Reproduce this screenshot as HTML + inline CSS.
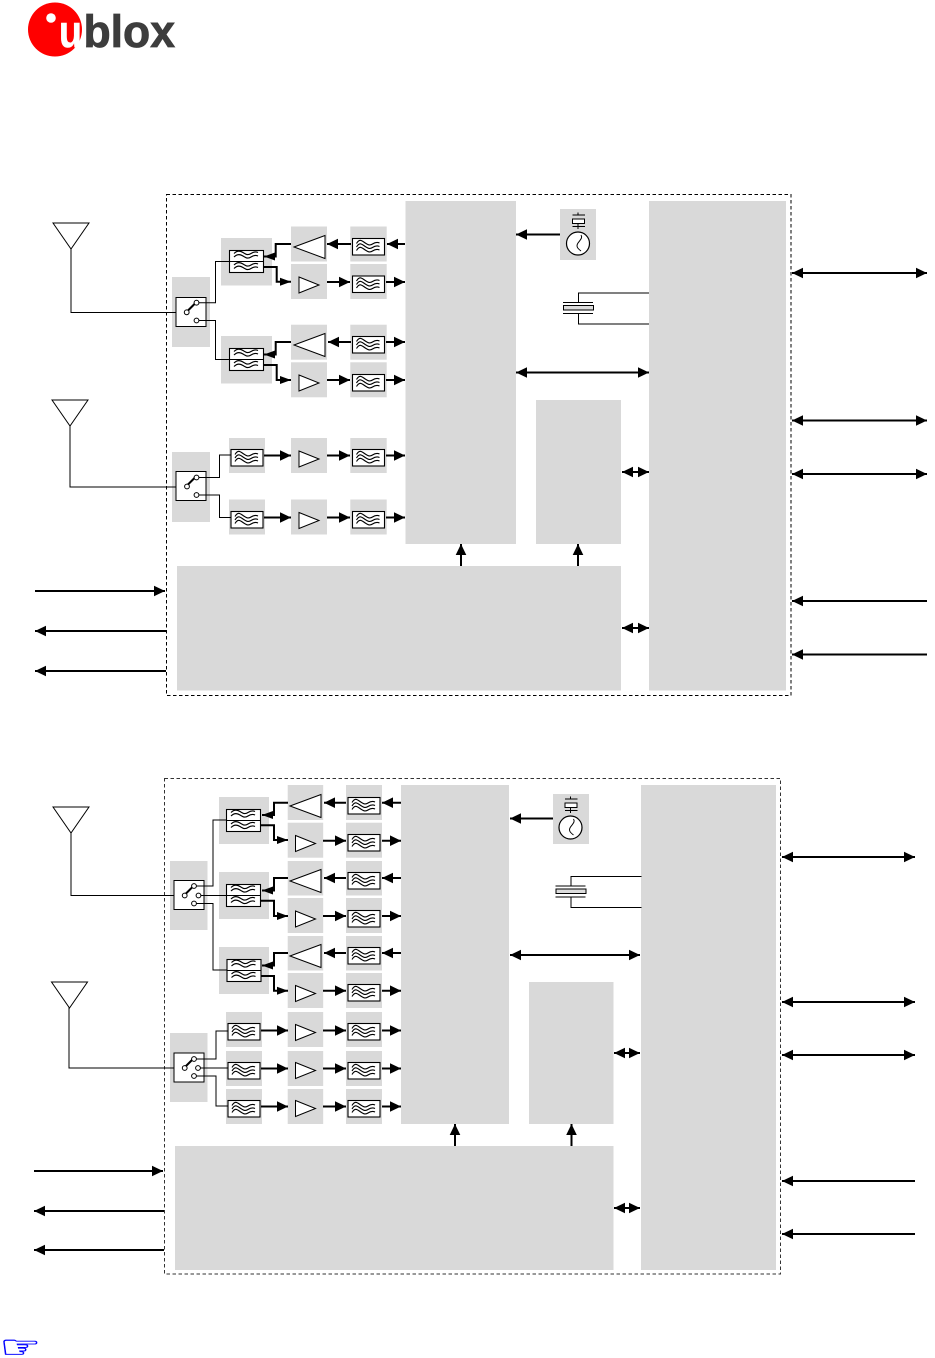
<!DOCTYPE html>
<html><head><meta charset="utf-8"><title>Block diagram</title>
<style>html,body{margin:0;padding:0;background:#fff}svg{display:block}</style></head>
<body>
<svg width="935" height="1358" viewBox="0 0 935 1358" xmlns="http://www.w3.org/2000/svg">
<defs>
<marker id="a" markerUnits="userSpaceOnUse" markerWidth="11" markerHeight="11" refX="11" refY="5.5" orient="auto-start-reverse"><path d="M0 0.2L11 5.5L0 10.8Z"/></marker>
<marker id="s" markerUnits="userSpaceOnUse" markerWidth="11" markerHeight="9" refX="11" refY="4.5" orient="auto-start-reverse"><path d="M0 0.5L11 4.5L0 8.5Z"/></marker>
<g id="w3" fill="none" stroke="#000" stroke-width="1.15"><path d="M4.5 5.5c3-5 5-3 8-1s5 3.5 8 1.5 5-2 7-1"/><path d="M4.5 9c3-5 5-3 8-1s5 3.5 8 1.5 5-2 7-1"/><path d="M4.5 12.5c3-5 5-3 8-1s5 3.5 8 1.5 5-2 7-1"/></g>
<g id="f"><rect x=".5" y=".5" width="32" height="16.5" fill="#fff" stroke="#000" stroke-width="1.1"/><use href="#w3"/></g>
<g id="w2" fill="none" stroke="#000" stroke-width="1.15"><path d="M5 3.5c3-3 6-3 9-1s5 3 8 1 5-2 7-1"/><path d="M5 7c3-3 6-3 9-1s5 3 8 1 5-2 7-1"/></g>
<g id="d"><rect x=".5" y=".5" width="34" height="22" fill="#fff" stroke="#000" stroke-width="1.1"/><path d="M0 11.5H35" stroke="#000" stroke-width="1"/><use href="#w2"/><use href="#w2" y="11.5"/></g>
<path id="big" d="M0 11.5L31 0V23Z" fill="#fff" stroke="#000"/>
<path id="sm" d="M0 0L20 8L0 16Z" fill="#fff" stroke="#000"/>
<g id="sw"><rect x=".5" y=".5" width="30" height="29" fill="#fff" stroke="#000"/><path d="M11 15L20 6" stroke="#000" stroke-width="2"/></g>
<circle id="c" r="2.4" fill="#fff" stroke="#000" stroke-width="1"/>
<path id="ant" d="M0 0H36L18 26Z" fill="#fff" stroke="#000"/>
<g id="osc"><path d="M18 3.5V6M12.5 6H25M18 14V20M12.5 17.5H25" stroke="#000" fill="none"/><rect x="12.5" y="10" width="12" height="4.5" fill="#fff" stroke="#000"/><circle cx="18" cy="34.5" r="11.5" fill="#fff" stroke="#000" stroke-width="1.2"/><path d="M21 26c2 3-1 5-3 8s-1 5 3 8" fill="none" stroke="#000"/></g>
<g id="xt"><path d="M15.5 9V0H86M15.5 21V31H86M0 9.5H30M0 20.5H30" stroke="#000" fill="none"/><rect x=".5" y="12.5" width="30" height="4.5" fill="#ddd" stroke="#000"/></g>
</defs>

<!-- logo -->
<circle cx="55" cy="29.5" r="27" fill="#f00"/>
<circle cx="51" cy="18" r="4.8" fill="#fff"/>
<text x="59" y="47" font-family="Liberation Sans, sans-serif" font-weight="bold" font-size="45" fill="#fff" stroke="#fff" stroke-width=".6" textLength="23" lengthAdjust="spacingAndGlyphs">u</text>
<text x="83.5" y="47" font-family="Liberation Sans, sans-serif" font-weight="bold" font-size="45" fill="#3d3d3d" stroke="#3d3d3d" stroke-width=".8" textLength="91.5" lengthAdjust="spacingAndGlyphs">blox</text>

<!-- TOP DIAGRAM -->
<rect x="166.5" y="194.5" width="624.5" height="501" fill="none" stroke="#000" stroke-dasharray="3.5 2.5"/>
<g fill="#d9d9d9">
<rect x="405.5" y="201" width="110.5" height="343"/><rect x="649" y="201" width="137" height="489.5"/>
<rect x="536" y="400" width="85" height="144"/><rect x="177" y="566" width="444" height="124.5"/>
<rect x="560" y="209" width="36" height="51"/>
<rect x="172" y="277" width="38" height="70"/><rect x="172" y="452" width="38" height="70"/>
<rect x="221" y="238" width="51" height="47.5"/><rect x="221" y="336" width="51" height="47.5"/>
<rect x="291" y="226.5" width="36" height="35"/><rect x="291" y="264" width="36" height="35"/><rect x="291" y="324.7" width="36" height="35"/><rect x="291" y="362.3" width="36" height="35"/><rect x="291" y="438" width="36" height="35"/><rect x="291" y="499.5" width="36" height="35"/>
<rect x="350.3" y="226.5" width="36.4" height="35"/><rect x="350.3" y="264" width="36.4" height="35"/><rect x="350.3" y="324.7" width="36.4" height="35"/><rect x="350.3" y="362.3" width="36.4" height="35"/><rect x="350.3" y="438" width="36.4" height="35"/><rect x="350.3" y="499.5" width="36.4" height="35"/>
<rect x="229" y="438" width="36" height="35"/><rect x="229" y="499.5" width="36" height="35"/>
</g>
<!-- antennas -->
<g fill="none" stroke="#000"><path d="M71 248V312.5H187"/><path d="M70 426V487H187"/></g>
<use href="#ant" x="53" y="223"/><use href="#ant" x="52" y="400"/>
<!-- switches -->
<use href="#sw" x="175.5" y="297"/><use href="#sw" x="175.5" y="471"/>
<g fill="none" stroke="#000"><path d="M196.5 302.7H215.5V261.5H230"/><path d="M196.5 320.5H215.5V359.5H230"/><path d="M196.5 477.5H219.5V455H231"/><path d="M196.5 495H219.5V517.5H231"/></g>
<use href="#c" x="186.7" y="312.3"/><use href="#c" x="196.5" y="302.7"/><use href="#c" x="196.5" y="320.5"/>
<use href="#c" x="187" y="486.5"/><use href="#c" x="196.5" y="477.5"/><use href="#c" x="196.5" y="495"/>
<!-- duplexers, filters, amps -->
<use href="#d" x="229" y="250"/><use href="#d" x="229" y="348"/>
<use href="#f" x="352" y="238"/><use href="#f" x="352" y="275.5"/><use href="#f" x="352" y="336"/><use href="#f" x="352" y="374"/><use href="#f" x="352" y="449"/><use href="#f" x="352" y="511"/>
<use href="#f" x="230.5" y="449"/><use href="#f" x="230.5" y="511"/>
<use href="#big" x="294" y="235.5"/><use href="#big" x="294" y="333.5"/>
<use href="#sm" x="299" y="277"/><use href="#sm" x="299" y="375"/><use href="#sm" x="299" y="451"/><use href="#sm" x="299" y="512.5"/>
<!-- arrows -->
<g fill="none" stroke="#000" stroke-width="2">
<path d="M291 244H275.7V256.5H264" marker-end="url(#s)"/>
<path d="M264 267H276.7V281.7H291" marker-end="url(#s)"/>
<path d="M291 342H275.7V354.5H264" marker-end="url(#s)"/>
<path d="M264 365H276.7V380H291" marker-end="url(#s)"/>
<path d="M351 244H327" marker-end="url(#a)"/><path d="M405 244H387" marker-end="url(#a)"/>
<path d="M327 282H350" marker-end="url(#a)"/><path d="M386 282H405" marker-end="url(#a)"/>
<path d="M351 342H328" marker-end="url(#a)"/><path d="M386 342H405" marker-end="url(#a)"/>
<path d="M327 380H350" marker-end="url(#a)"/><path d="M386 380H405" marker-end="url(#a)"/>
<path d="M264 455.5H291" marker-end="url(#a)"/><path d="M327 455.5H350" marker-end="url(#a)"/><path d="M386 455.5H405" marker-end="url(#a)"/>
<path d="M264 517.5H291" marker-end="url(#a)"/><path d="M327 517.5H350" marker-end="url(#a)"/><path d="M386 517.5H405" marker-end="url(#a)"/>
<path d="M560 234.5H516" marker-end="url(#a)"/>
<path d="M516 372.5H649" marker-start="url(#a)" marker-end="url(#a)"/>
<path d="M622 472H649" marker-start="url(#a)" marker-end="url(#a)"/>
<path d="M622 628H649" marker-start="url(#a)" marker-end="url(#a)"/>
<path d="M461 566V544" marker-end="url(#a)"/><path d="M578 566V544" marker-end="url(#a)"/>
<path d="M792 273H927" marker-start="url(#a)" marker-end="url(#a)"/>
<path d="M792 420.5H927" marker-start="url(#a)" marker-end="url(#a)"/>
<path d="M792 474H927" marker-start="url(#a)" marker-end="url(#a)"/>
<path d="M927 601H792" marker-end="url(#a)"/><path d="M927 654.5H792" marker-end="url(#a)"/>
<path d="M35 591H165" marker-end="url(#a)"/><path d="M166 631H35" marker-end="url(#a)"/><path d="M166 671H35" marker-end="url(#a)"/>
</g>
<use href="#osc" x="560" y="209"/>
<use href="#xt" x="563" y="293"/>

<!-- BOTTOM DIAGRAM -->
<rect x="164.5" y="778.5" width="616" height="495.5" fill="none" stroke="#333" stroke-dasharray="3.5 2.5"/>
<g fill="#d9d9d9">
<rect x="401" y="785" width="108" height="339"/><rect x="641" y="785" width="135" height="485"/>
<rect x="529" y="982" width="84.5" height="142"/><rect x="175" y="1146" width="438.5" height="124"/>
<rect x="553" y="794" width="36" height="50"/>
<rect x="170" y="861" width="37.5" height="69"/><rect x="170" y="1033" width="37.5" height="69"/>
<rect x="219" y="797" width="50" height="47"/><rect x="219" y="872" width="50" height="47"/><rect x="219" y="947" width="50" height="47"/>
<rect x="226" y="1012" width="36" height="35"/><rect x="226" y="1051" width="36" height="35"/><rect x="226" y="1089" width="36" height="35"/>
<rect x="287.7" y="785" width="35.5" height="35"/><rect x="287.7" y="822.7" width="35.5" height="35"/><rect x="287.7" y="861" width="35.5" height="34.5"/><rect x="287.7" y="898" width="35.5" height="35"/><rect x="287.7" y="936" width="35.5" height="34.5"/><rect x="287.7" y="973" width="35.5" height="35"/><rect x="287.7" y="1012" width="35.5" height="35"/><rect x="287.7" y="1051" width="35.5" height="35"/><rect x="287.7" y="1089" width="35.5" height="35"/>
<rect x="346" y="785" width="36" height="35"/><rect x="346" y="822.7" width="36" height="35"/><rect x="346" y="861" width="36" height="34.5"/><rect x="346" y="898" width="36" height="35"/><rect x="346" y="936" width="36" height="34.5"/><rect x="346" y="973" width="36" height="35"/><rect x="346" y="1012" width="36" height="35"/><rect x="346" y="1051" width="36" height="35"/><rect x="346" y="1089" width="36" height="35"/>
</g>
<g fill="none" stroke="#000"><path d="M71 833V895.5H185"/><path d="M69 1007V1068H185"/></g>
<use href="#ant" x="53" y="807"/><use href="#ant" x="51.5" y="982"/>
<use href="#sw" x="173.5" y="880"/><use href="#sw" x="173.5" y="1052.5"/>
<g fill="none" stroke="#000"><path d="M194 886H213V820H227"/><path d="M198.5 895.5H228"/><path d="M194 903.5H213V970H228"/><path d="M194 1059H216V1031H228"/><path d="M198 1068H228"/><path d="M194 1076H216V1106H228"/></g>
<use href="#c" x="184.7" y="895.5"/><use href="#c" x="194" y="886"/><use href="#c" x="198.5" y="895.5"/><use href="#c" x="194" y="903.5"/>
<use href="#c" x="184.7" y="1068"/><use href="#c" x="194" y="1059"/><use href="#c" x="198" y="1068"/><use href="#c" x="194" y="1076"/>
<use href="#d" x="226" y="809"/><use href="#d" x="226" y="884"/><use href="#d" x="226.5" y="959"/>
<use href="#f" x="347.5" y="797"/><use href="#f" x="347.5" y="834"/><use href="#f" x="347.5" y="872"/><use href="#f" x="347.5" y="910"/><use href="#f" x="347.5" y="947"/><use href="#f" x="347.5" y="984"/><use href="#f" x="347.5" y="1023"/><use href="#f" x="347.5" y="1062"/><use href="#f" x="347.5" y="1100"/>
<use href="#f" x="227.5" y="1023"/><use href="#f" x="227.5" y="1062"/><use href="#f" x="227.5" y="1100"/>
<use href="#big" x="290" y="794.5"/><use href="#big" x="290" y="869.5"/><use href="#big" x="290" y="944.5"/>
<use href="#sm" x="295.5" y="835.5"/><use href="#sm" x="295.5" y="911"/><use href="#sm" x="295.5" y="985.5"/><use href="#sm" x="295.5" y="1024.5"/><use href="#sm" x="295.5" y="1062.5"/><use href="#sm" x="295.5" y="1100.5"/>
<g fill="none" stroke="#000" stroke-width="2">
<path d="M288 802.7H274V815H262" marker-end="url(#s)"/><path d="M261 825.3H274V840H288" marker-end="url(#s)"/>
<path d="M288 878H274V890.5H262" marker-end="url(#s)"/><path d="M261 900.7H274V916H288" marker-end="url(#s)"/>
<path d="M288 953H274V965.5H262" marker-end="url(#s)"/><path d="M261 976H274V990.7H288" marker-end="url(#s)"/>
<path d="M346 802.7H324" marker-end="url(#a)"/><path d="M401 802.7H382" marker-end="url(#a)"/>
<path d="M323 840.7H346" marker-end="url(#a)"/><path d="M382 840.7H401" marker-end="url(#a)"/>
<path d="M346 878H324" marker-end="url(#a)"/><path d="M401 878H382" marker-end="url(#a)"/>
<path d="M323 916H346" marker-end="url(#a)"/><path d="M382 916H401" marker-end="url(#a)"/>
<path d="M346 953H324" marker-end="url(#a)"/><path d="M401 953H382" marker-end="url(#a)"/>
<path d="M323 990.7H346" marker-end="url(#a)"/><path d="M382 990.7H401" marker-end="url(#a)"/>
<path d="M261 1030.5H288" marker-end="url(#a)"/><path d="M323 1030.5H346" marker-end="url(#a)"/><path d="M382 1030.5H401" marker-end="url(#a)"/>
<path d="M261 1068.5H288" marker-end="url(#a)"/><path d="M323 1068.5H346" marker-end="url(#a)"/><path d="M382 1068.5H401" marker-end="url(#a)"/>
<path d="M261 1106.5H288" marker-end="url(#a)"/><path d="M323 1106.5H346" marker-end="url(#a)"/><path d="M382 1106.5H401" marker-end="url(#a)"/>
<path d="M553 818.5H510" marker-end="url(#a)"/>
<path d="M510 955H640" marker-start="url(#a)" marker-end="url(#a)"/>
<path d="M614 1053H640" marker-start="url(#a)" marker-end="url(#a)"/>
<path d="M614 1208H640" marker-start="url(#a)" marker-end="url(#a)"/>
<path d="M455 1146V1124" marker-end="url(#a)"/><path d="M571.5 1146V1124" marker-end="url(#a)"/>
<path d="M782 857H915" marker-start="url(#a)" marker-end="url(#a)"/>
<path d="M782 1002H915" marker-start="url(#a)" marker-end="url(#a)"/>
<path d="M782 1055H915" marker-start="url(#a)" marker-end="url(#a)"/>
<path d="M915 1181H782" marker-end="url(#a)"/><path d="M915 1234H782" marker-end="url(#a)"/>
<path d="M34 1171H163" marker-end="url(#a)"/><path d="M164 1211H34" marker-end="url(#a)"/><path d="M164 1250H34" marker-end="url(#a)"/>
</g>
<use href="#osc" x="552.5" y="793"/>
<use href="#xt" x="555.5" y="876.5"/>

<!-- note hand -->
<text transform="translate(-0.5 1358.2) scale(1.16 .8)" font-family="DejaVu Sans, sans-serif" font-size="40" fill="#0000ff" stroke="#0000ff" stroke-width=".5">☞</text>
</svg>
</body></html>
